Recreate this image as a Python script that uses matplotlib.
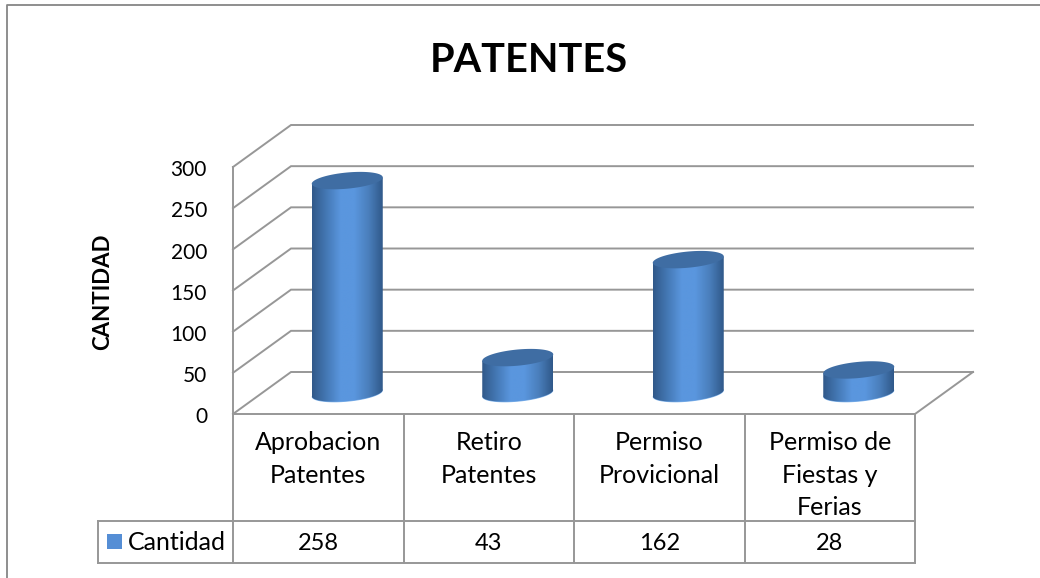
import numpy as np
import matplotlib
matplotlib.use('Agg')
import matplotlib.pyplot as plt
from matplotlib.colors import LinearSegmentedColormap
from matplotlib.patches import Polygon, Rectangle

categories = ['Aprobacion\nPatentes', 'Retiro\nPatentes', 'Permiso\nProvicional', 'Permiso de\nFiestas y\nFerias']
cantidad = [258, 43, 162, 28]
y_ticks = [0, 50, 100, 150, 200, 250, 300]

plt.rcParams['font.family'] = ['Lato', 'DejaVu Sans']
GRID = '#979797'
LW = 1.4

fig = plt.figure(figsize=(10.4, 5.78), dpi=100)

# pixel layer for the outer frame and the titles
bg = fig.add_axes([0, 0, 1, 1])
bg.set_xlim(0, 1040)
bg.set_ylim(578, 0)
bg.axis('off')
bg.plot([7, 7, 1040], [578, 5, 5], color='#868686', lw=1.3)
bg.text(529, 61, 'PATENTES', ha='center', va='center', fontsize=28.5, fontweight='bold', color='black')
bg.text(103, 292, 'CANTIDAD', ha='center', va='center', rotation=90, fontsize=16, fontweight='bold', color='black')

# front plane of the 3D box: one category is 170.5 px, 300 units are 247 px
ax = fig.add_axes([233 / 1040, (578 - 414) / 578, 682 / 1040, 247 / 578])
ax.patch.set_alpha(0)
ax.set_xlim(-0.5, 3.5)
ax.set_ylim(0, 300)
for s in ax.spines.values():
    s.set_visible(False)

px_x = 4 / 682      # data units per pixel
px_y = 300 / 247
depth_x = 58 * px_x
depth_y = 42 * px_y

# walls and floor
for v in y_ticks:
    ax.plot([-0.5, -0.5 + depth_x, 3.5 + depth_x], [v, v + depth_y, v + depth_y],
            color=GRID, lw=LW, clip_on=False, solid_joinstyle='miter')
ax.plot([-0.5, -0.5], [0, 300], color=GRID, lw=LW, clip_on=False)
ax.plot([-0.5, 3.5, 3.5 + depth_x], [0, 0, depth_y], color=GRID, lw=LW, clip_on=False)

# cylinders sit halfway into the box
cmap = LinearSegmentedColormap.from_list('cyl', ['#31598a', '#4478b4', '#5a96de', '#5a96de', '#4a7fbc', '#30598a'])
grad = np.linspace(0, 1, 128).reshape(1, -1)
half_w = 35.5 * px_x
tt = np.linspace(0, 2 * np.pi, 121)


def ellipse(xc, yc, t):
    return xc + half_w * np.cos(t), yc + (3.2 * np.cos(t) + 8.1 * np.sin(t)) * px_y


for i, v in enumerate(cantidad):
    xc = i + depth_x / 2
    y0 = depth_y / 2
    y1 = v + depth_y / 2
    front = np.linspace(np.pi, 2 * np.pi, 61)
    xb, yb = ellipse(xc, y0, front)
    xt, yt = ellipse(xc, y1, tt)

    # light rim at the foot
    rim = Polygon(np.column_stack(ellipse(xc, y0 - 0.6 * px_y, tt)), closed=True,
                  fc='#7fb2ea', ec='none', clip_on=False, zorder=3)
    ax.add_patch(rim)

    outline = np.vstack([np.column_stack([xb, yb]),
                         [[xc + half_w, y1 + 3.2 * px_y], [xc - half_w, y1 - 3.2 * px_y]]])
    body = Polygon(outline, closed=True, transform=ax.transData, fc='none', ec='none')
    ax.add_patch(body)
    im = ax.imshow(grad, cmap=cmap, aspect='auto', zorder=4, interpolation='bilinear',
                   extent=(xc - half_w, xc + half_w, y0 - 12 * px_y, y1 + 6 * px_y))
    im.set_clip_path(body)
    ax.add_patch(Polygon(np.column_stack([xt, yt]), closed=True, fc='#3f6da3', ec='none', zorder=5, clip_on=False))

ax.set_xlim(-0.5, 3.5)
ax.set_ylim(0, 300)

# axis labels, the value labels sit a little under their lines
ax.set_yticks(y_ticks)
ax.set_yticklabels([])
ax.tick_params(axis='y', length=0)
for v in y_ticks:
    ax.annotate(str(v), (-0.5, v), xytext=(-26 * 0.72, -2.4), textcoords='offset points',
                ha='right', va='center', fontsize=15, annotation_clip=False)
ax.set_xticks(range(len(categories)))
ax.set_xticklabels(categories, fontsize=18, linespacing=1.5, va='top')
ax.tick_params(axis='x', length=0, pad=12.5)

# data table below the plot
trans = ax.get_xaxis_transform()


def row_y(py):
    return (414 - py) / 247


legend_left = -0.5 - 135 * px_x
for x in np.arange(-0.5, 4):
    ax.plot([x, x], [row_y(414), row_y(563)], color=GRID, lw=LW, transform=trans, clip_on=False)
ax.plot([legend_left, 3.5], [row_y(521)] * 2, color=GRID, lw=LW, transform=trans, clip_on=False)
ax.plot([legend_left, 3.5], [row_y(563)] * 2, color=GRID, lw=LW, transform=trans, clip_on=False)
ax.plot([legend_left, legend_left], [row_y(521), row_y(563)], color=GRID, lw=LW, transform=trans, clip_on=False)
for i, v in enumerate(cantidad):
    ax.text(i, row_y(543), str(v), ha='center', va='center', fontsize=17, transform=trans)
ax.add_patch(Rectangle((legend_left + 9 * px_x, row_y(549)), 15 * px_x, 15 / 247, transform=trans,
                       fc='#558ed5', ec='none', clip_on=False))
ax.text(legend_left + 30 * px_x, row_y(542), 'Cantidad', ha='left', va='center', fontsize=18, transform=trans)

fig.savefig('out.png', dpi=100)
